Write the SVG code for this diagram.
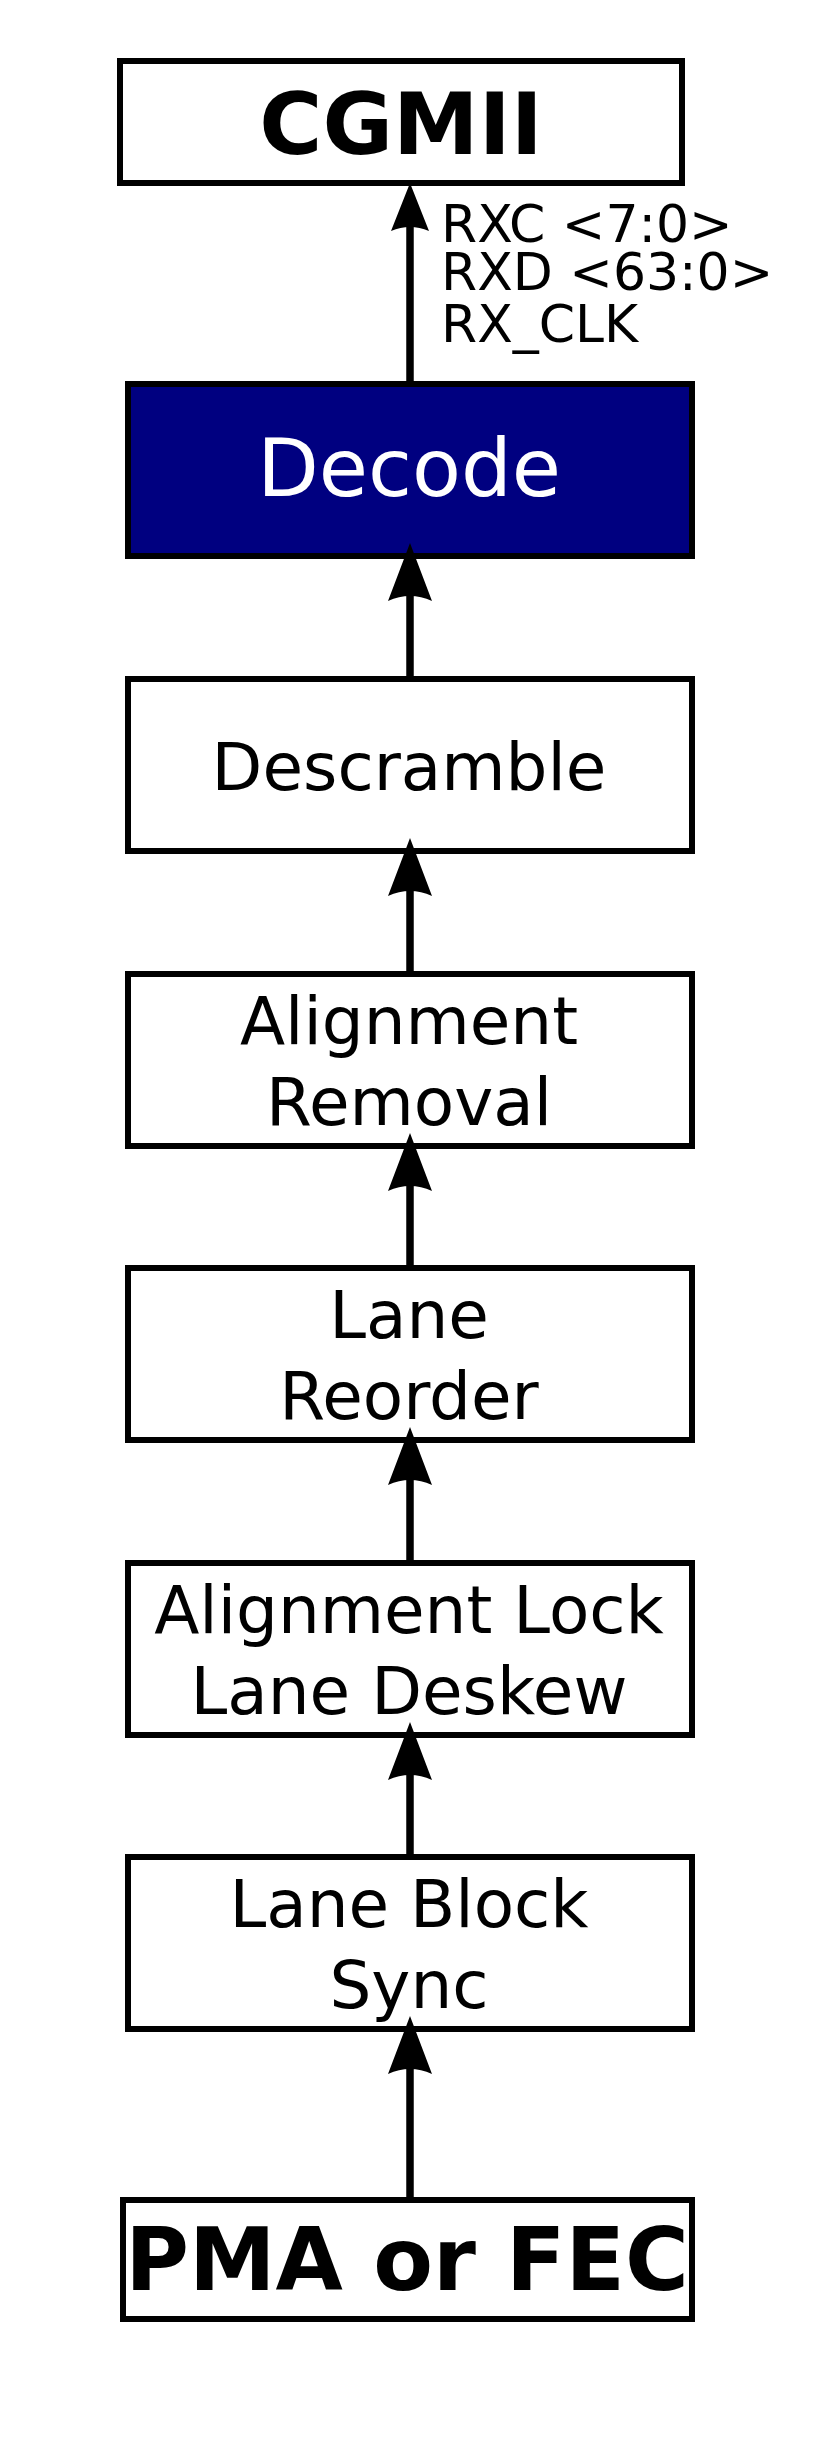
<svg xmlns="http://www.w3.org/2000/svg" width="832" height="2457" viewBox="0 0 832 2457">
<style>
.box{fill:#fff;stroke:#000;stroke-width:6}
.dark{fill:#000080;stroke:#000;stroke-width:6}
.t{font-family:"DejaVu Sans","Liberation Sans",sans-serif;font-size:66px;fill:#000;text-anchor:middle}
.b{font-weight:bold;font-size:86px}
.p{font-size:87px}
.w{fill:#fff;font-size:80px}
.lbl{font-family:"DejaVu Sans","Liberation Sans",sans-serif;font-size:52px;fill:#000}
.edge{stroke:#000;stroke-width:7.5;fill:none}
</style>
<defs>
<marker id="ah" markerUnits="userSpaceOnUse" viewBox="0 -25 60 50" markerWidth="60" markerHeight="50" refX="10" refY="0" orient="auto">
<path d="M60,0 L2,-22 Q12,0 2,22 Z" fill="#000"/>
</marker>
<marker id="ahs" markerUnits="userSpaceOnUse" viewBox="0 -25 60 50" markerWidth="60" markerHeight="50" refX="12" refY="0" orient="auto">
<path d="M52,0 L4,-19 Q12,0 4,19 Z" fill="#000"/>
</marker>
</defs>
<rect width="832" height="2457" fill="#fff"/>
<g id="cgmii"><rect class="box" x="120" y="61" width="562" height="122"/><text class="t b" x="401" y="154">CGMII</text></g>
<g id="decode"><rect class="dark" x="128" y="384" width="564" height="172"/><text class="t w" x="409" y="496">Decode</text></g>
<g id="descramble"><rect class="box" x="128" y="679" width="564" height="172"/><text class="t" x="409" y="790">Descramble</text></g>
<g id="alignment-removal"><rect class="box" x="128" y="974" width="564" height="172"/><text class="t" x="409" y="1044">Alignment</text><text class="t" x="409" y="1125">Removal</text></g>
<g id="lane-reorder"><rect class="box" x="128" y="1268" width="564" height="172"/><text class="t" x="409" y="1338">Lane</text><text class="t" x="409" y="1419">Reorder</text></g>
<g id="alignment-lock"><rect class="box" x="128" y="1563" width="564" height="172"/><text class="t" x="409" y="1633">Alignment Lock</text><text class="t" x="409" y="1714">Lane Deskew</text></g>
<g id="lane-block-sync"><rect class="box" x="128" y="1857" width="564" height="172"/><text class="t" x="409" y="1927">Lane Block</text><text class="t" x="409" y="2008">Sync</text></g>
<g id="pma"><rect class="box" x="123" y="2200" width="569" height="119"/><text class="t b p" x="407" y="2290">PMA or FEC</text></g>
<g id="connectors">
<line class="edge" x1="410" y1="384" x2="410" y2="223" marker-end="url(#ahs)"/>
<line class="edge" x1="410" y1="679" x2="410" y2="593" marker-end="url(#ah)"/>
<line class="edge" x1="410" y1="974" x2="410" y2="888" marker-end="url(#ah)"/>
<line class="edge" x1="410" y1="1268" x2="410" y2="1183" marker-end="url(#ah)"/>
<line class="edge" x1="410" y1="1563" x2="410" y2="1477" marker-end="url(#ah)"/>
<line class="edge" x1="410" y1="1857" x2="410" y2="1772" marker-end="url(#ah)"/>
<line class="edge" x1="410" y1="2200" x2="410" y2="2066" marker-end="url(#ah)"/>
<text class="lbl" x="441" y="242">RXC &lt;7:0&gt;</text>
<text class="lbl" x="441" y="290">RXD &lt;63:0&gt;</text>
<text class="lbl" x="441" y="342">RX_CLK</text>
</g>
</svg>
